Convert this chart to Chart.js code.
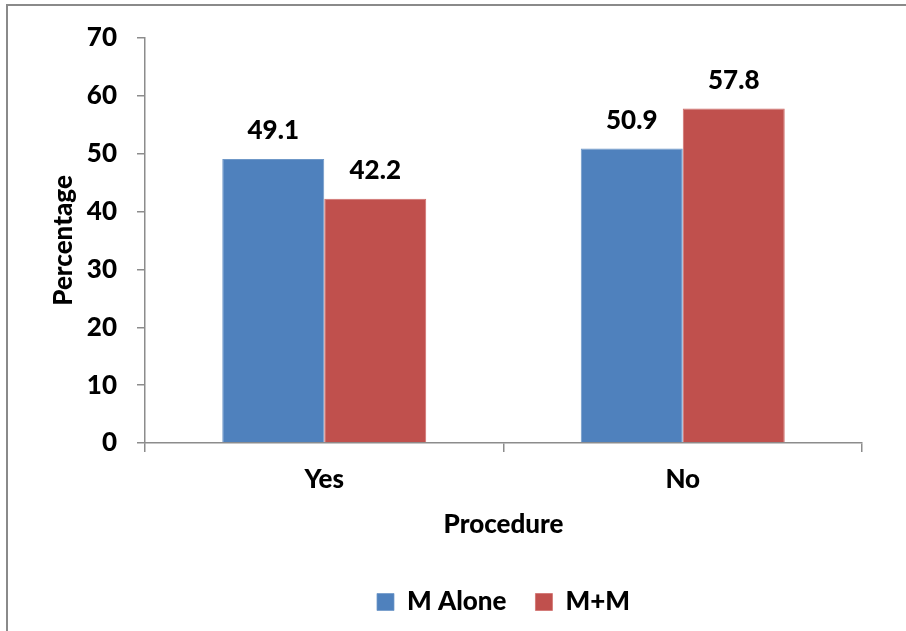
<!DOCTYPE html>
<html>
<head>
<meta charset="utf-8">
<script src="https://cdn.jsdelivr.net/npm/chart.js@4.4.1/dist/chart.umd.min.js"></script>
<style>
  html, body { margin: 0; padding: 0; background: #ffffff; }
  #wrap { position: relative; width: 906px; height: 631px; }
</style>
</head>
<body>
<div id="wrap"><canvas id="chart" width="906" height="631"></canvas></div>
<script>
// Procedure outcome by treatment group (percent)
const categories = ['Yes', 'No'];
const seriesNames = ['M Alone', 'M+M'];
const mAlone = [49.1, 50.9];
const mPlusM = [42.2, 57.8];
const yTicks = [0, 10, 20, 30, 40, 50, 60, 70];

const FONT = 'Lato, Carlito, Calibri, "Open Sans", sans-serif';
const SIZE = 26;
const WEIGHT = 900;
const BLUE = '#4F81BD';
const RED = '#C0504D';
const AXIS = '#8c8c8c';

// Outer frame of the chart object
const framePlugin = {
  id: 'frame',
  beforeDraw(chart) {
    const ctx = chart.ctx;
    ctx.save();
    ctx.fillStyle = '#ffffff';
    ctx.fillRect(0, 0, chart.width, chart.height);
    ctx.strokeStyle = '#8a8a8a';
    ctx.lineWidth = 2;
    ctx.strokeRect(7, 5, chart.width + 20, chart.height + 20);
    ctx.restore();
  }
};

// Center the legend row under the plot area rather than the whole canvas
const legendUnderPlot = {
  id: 'legendUnderPlot',
  afterLayout(chart) {
    const lg = chart.legend;
    if (!lg) return;
    lg.left = chart.chartArea.left;
    lg.right = chart.chartArea.right;
  }
};

// Value labels above each bar, taken from the dataset values
const valueLabels = {
  id: 'valueLabels',
  afterDatasetsDraw(chart) {
    const ctx = chart.ctx;
    ctx.save();
    ctx.font = WEIGHT + ' ' + SIZE + 'px ' + FONT;
    ctx.fillStyle = '#000000';
    ctx.textAlign = 'center';
    ctx.textBaseline = 'alphabetic';
    chart.data.datasets.forEach((ds, i) => {
      const meta = chart.getDatasetMeta(i);
      meta.data.forEach((bar, j) => {
        ctx.fillText(ds.data[j].toFixed(1), bar.x, bar.y - 20);
      });
    });
    ctx.restore();
  }
};

const textFont = { family: FONT, size: SIZE, weight: WEIGHT };

new Chart(document.getElementById('chart'), {
  type: 'bar',
  data: {
    labels: categories,
    datasets: [
      { label: seriesNames[0], data: mAlone, backgroundColor: BLUE, borderColor: '#6f98c8', borderWidth: { top: 1, left: 1, right: 1, bottom: 0 } },
      { label: seriesNames[1], data: mPlusM, backgroundColor: RED, borderColor: '#d06e6b', borderWidth: { top: 1, left: 1, right: 1, bottom: 0 } }
    ]
  },
  options: {
    responsive: false,
    animation: false,
    devicePixelRatio: 1,
    layout: { padding: { left: 0, top: 38, right: 44, bottom: 6 } },
    datasets: { bar: { categoryPercentage: 0.569, barPercentage: 1.0 } },
    plugins: {
      legend: {
        position: 'bottom',
        labels: {
          color: '#000000',
          font: textFont,
          boxWidth: 17,
          boxHeight: 17,
          padding: 29
        }
      },
      tooltip: { enabled: false }
    },
    scales: {
      x: {
        afterFit(scale) { scale.height = 117; },
        grid: {
          offset: true,
          drawOnChartArea: false,
          drawTicks: true,
          tickLength: 9,
          color: AXIS,
          lineWidth: 1.5
        },
        border: { display: true, color: AXIS, width: 1.5 },
        ticks: {
          color: '#000000',
          font: textFont,
          padding: 12
        },
        title: {
          display: true,
          text: 'Procedure',
          color: '#000000',
          font: textFont,
          padding: { top: 0, bottom: 20 }
        }
      },
      y: {
        min: 0,
        max: 70,
        afterFit(scale) { scale.width = 145; },
        afterBuildTicks(scale) { scale.ticks = yTicks.map(v => ({ value: v })); },
        grid: {
          drawOnChartArea: false,
          drawTicks: true,
          tickLength: 8,
          color: AXIS,
          lineWidth: 1.5
        },
        border: { display: true, color: AXIS, width: 1.5 },
        ticks: {
          color: '#000000',
          font: textFont,
          padding: 20
        },
        title: {
          display: true,
          text: 'Percentage',
          color: '#000000',
          font: textFont,
          padding: { top: 48, bottom: 0 }
        }
      }
    }
  },
  plugins: [framePlugin, legendUnderPlot, valueLabels]
});
</script>
</body>
</html>
